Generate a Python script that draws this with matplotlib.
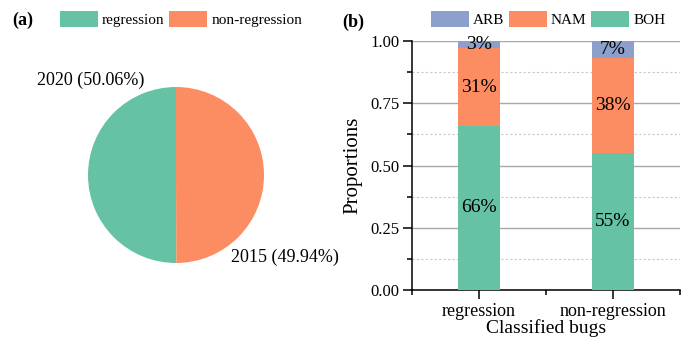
import matplotlib
matplotlib.use("Agg")
import matplotlib.pyplot as plt
import numpy as np
from matplotlib.patches import Patch
from matplotlib.ticker import MultipleLocator, FixedLocator, FormatStrFormatter, NullFormatter

plt.rcParams['font.family'] = ['Liberation Serif', 'DejaVu Serif']

# Panel (a): bug reports per category
pie_labels = ["regression", "non-regression"]
pie_counts = [2020, 2015]

# Panel (b): composition of classified bugs
bar_categories = ["regression", "non-regression"]
boh = [0.66, 0.55]
nam = [0.31, 0.38]
arb = [0.03, 0.07]

GREEN = "#66c2a5"
ORANGE = "#fc8d62"
BLUE = "#8da0cb"

W, H = 683, 344
fig = plt.figure(figsize=(W / 100, H / 100), dpi=100)

# ---- (a) pie ----
cx, cy, r, half = 176, 175, 88, 100
ax1 = fig.add_axes([(cx - half) / W, (H - cy - half) / H, 2 * half / W, 2 * half / H])
ax1.pie(pie_counts, colors=[GREEN, ORANGE], startangle=90, counterclock=True,
        radius=1.0, wedgeprops=dict(linewidth=0))
lim = half / r
ax1.set_xlim(-lim, lim)
ax1.set_ylim(-lim, lim)
ax1.set_aspect('equal')
ax1.axis('off')
total = sum(pie_counts)
pcts = [c / total * 100 for c in pie_counts]
ax1.text(-0.97, 1.08, f"{pie_counts[0]} ({pcts[0]:.2f}%)", ha='center', va='center',
         fontsize=13, clip_on=False)
ax1.text(1.24, -0.94, f"{pie_counts[1]} ({pcts[1]:.2f}%)", ha='center', va='center',
         fontsize=13, clip_on=False)

handles_a = [Patch(facecolor=GREEN, label=pie_labels[0]),
             Patch(facecolor=ORANGE, label=pie_labels[1])]
fig.legend(handles=handles_a, loc='center', bbox_to_anchor=(181 / W, 1 - 19 / H),
           ncol=2, frameon=False, fontsize=11, handlelength=2.5, handleheight=1.2,
           handletextpad=0.25, columnspacing=0.3, borderaxespad=0)
fig.text(12 / W, 1 - 20 / H, "(a)", fontsize=13, fontweight='bold', va='center', ha='left')

# ---- (b) stacked bars ----
left, right, top, bottom = 412, 680, 41, 290
ax2 = fig.add_axes([left / W, (H - bottom) / H, (right - left) / W, (bottom - top) / H])
x = np.arange(len(bar_categories))
bw = 0.31
ax2.bar(x, boh, bw, color=GREEN, label="BOH", zorder=3)
ax2.bar(x, nam, bw, bottom=boh, color=ORANGE, label="NAM", zorder=3)
bottom2 = np.array(boh) + np.array(nam)
ax2.bar(x, arb, bw, bottom=bottom2, color=BLUE, label="ARB", zorder=3)

for i in range(len(x)):
    ax2.text(x[i], boh[i] / 2, f"{boh[i]*100:.0f}%", ha='center', va='center', fontsize=14, zorder=4)
    ax2.text(x[i], boh[i] + nam[i] / 2, f"{nam[i]*100:.0f}%", ha='center', va='center', fontsize=14, zorder=4)
    ax2.text(x[i], bottom2[i] + arb[i] / 2, f"{arb[i]*100:.0f}%", ha='center', va='center', fontsize=14, zorder=4)

ax2.set_xlim(-0.5, 1.5)
ax2.set_ylim(0, 1)
ax2.set_xticks(x)
ax2.set_xticklabels(bar_categories, fontsize=13)
ax2.xaxis.set_minor_locator(FixedLocator([-0.5, 0.5, 1.5]))
ax2.xaxis.set_minor_formatter(NullFormatter())
ax2.yaxis.set_major_locator(MultipleLocator(0.25))
ax2.yaxis.set_minor_locator(MultipleLocator(0.125))
ax2.yaxis.set_major_formatter(FormatStrFormatter('%.2f'))
ax2.tick_params(axis='y', labelsize=12, pad=2.5)
ax2.tick_params(axis='x', pad=2.5)
ax2.tick_params(which='major', direction='out', length=6.5, width=1.1)
ax2.tick_params(which='minor', direction='out', length=3.5, width=1.1)
for s in ['top', 'right']:
    ax2.spines[s].set_visible(False)
for s in ['left', 'bottom']:
    ax2.spines[s].set_linewidth(1.1)
ax2.grid(which='major', axis='y', color='#a8a8a8', linewidth=1.0, zorder=0)
ax2.grid(which='minor', axis='y', color='#c8c8c8', linewidth=0.8, linestyle=(0, (2, 2)), zorder=0)
ax2.set_axisbelow(True)
ax2.set_ylabel("Proportions", fontsize=15, labelpad=6)
ax2.set_xlabel("Classified bugs", fontsize=14, labelpad=0)

handles_b = [Patch(facecolor=BLUE, label="ARB"),
             Patch(facecolor=ORANGE, label="NAM"),
             Patch(facecolor=GREEN, label="BOH")]
fig.legend(handles=handles_b, loc='center', bbox_to_anchor=(548 / W, 1 - 19 / H),
           ncol=3, frameon=False, fontsize=11, handlelength=2.5, handleheight=1.2,
           handletextpad=0.25, columnspacing=0.3, borderaxespad=0)
fig.text(342 / W, 1 - 22 / H, "(b)", fontsize=13, fontweight='bold', va='center', ha='left')

fig.savefig("out.png", dpi=100, facecolor='white')
